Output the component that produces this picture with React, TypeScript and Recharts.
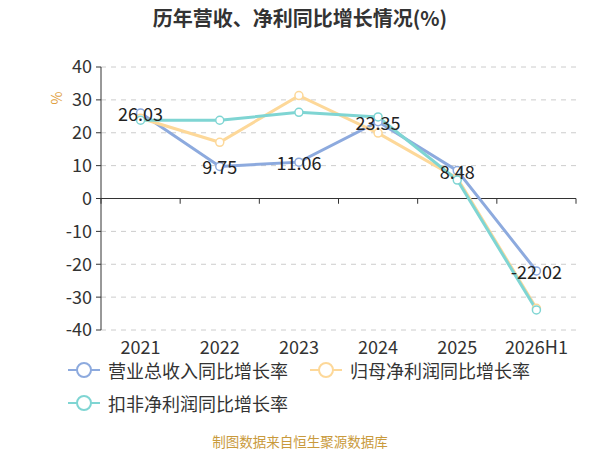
import { CartesianGrid, LabelList, Legend, Line, LineChart, ReferenceLine, XAxis, YAxis } from 'recharts'

const YEARS = ['2021', '2022', '2023', '2024', '2025', '2026H1']
const REVENUE = [26.03, 9.75, 11.06, 23.35, 8.48, -22.02]
const PARENT_PROFIT = [24.4, 17.1, 31.3, 19.9, 6.2, -33.4]
const DEDUCTED_PROFIT = [23.8, 23.8, 26.2, 24.8, 5.6, -33.9]
const Y_TICKS = [-40, -30, -20, -10, 0, 10, 20, 30, 40]
const EDGES = [0, 1, 2, 3, 4, 5, 6]

const SERIES = [
  { key: 'revenue', name: '营业总收入同比增长率', color: '#8DAADE' },
  { key: 'parent', name: '归母净利润同比增长率', color: '#FDD899' },
  { key: 'deducted', name: '扣非净利润同比增长率', color: '#7FD5D3' }
]

const FONT = '"Noto Sans CJK SC", "Noto Sans", sans-serif'
const TEXT = '#333'

const data = YEARS.map((year, i) => ({
  year,
  edge: i,
  revenue: REVENUE[i],
  parent: PARENT_PROFIT[i],
  deducted: DEDUCTED_PROFIT[i]
}))

const renderValue = (props: any) => {
  const { x, y, value } = props
  return (
    <text x={x} y={y} textAnchor='middle' dominantBaseline='central' fontSize={18} fill='#222' fontFamily={FONT}>
      {value}
    </text>
  )
}

const renderLegend = () => (
  <div style={{ display: 'flex', flexWrap: 'wrap', width: 520, fontFamily: FONT, fontSize: 18, color: TEXT }}>
    {SERIES.map(s => (
      <div key={s.key} style={{ display: 'flex', alignItems: 'center', width: 242, height: 33 }}>
        <svg width={32} height={18} style={{ marginRight: 8 }}>
          <line x1={0} y1={9} x2={32} y2={9} stroke={s.color} strokeWidth={2} />
          <circle cx={16} cy={9} r={7} fill='#fff' stroke={s.color} strokeWidth={2} />
        </svg>
        <span>{s.name}</span>
      </div>
    ))}
  </div>
)

export default function App () {
  return (
    <div style={{ position: 'absolute', left: 0, top: 0, width: 600, height: 450, background: '#fff', fontFamily: FONT }}>
      <div style={{ position: 'absolute', top: 3, width: 600, textAlign: 'center', fontSize: 20, fontWeight: 'bold', color: TEXT }}>
        历年营收、净利同比增长情况(%)
      </div>
      <div style={{ position: 'absolute', left: 50, top: 88, fontSize: 14, color: '#E0A040', transform: 'rotate(-90deg)' }}>
        %
      </div>
      <LineChart width={600} height={450} data={data} margin={{ top: 67, right: 24, left: 0, bottom: 90 }}>
        <CartesianGrid horizontal vertical={false} stroke='#ccc' strokeDasharray='5 5' />
        <XAxis
          dataKey='year'
          scale='band'
          axisLine={false}
          tickLine={false}
          height={30}
          interval={0}
          tick={{ fontSize: 18, fill: TEXT }}
          tickMargin={5}
        />
        <XAxis xAxisId='edge' dataKey='edge' type='number' domain={[0, YEARS.length]} hide />
        <YAxis
          width={101}
          domain={[-40, 40]}
          ticks={Y_TICKS}
          interval={0}
          axisLine={{ stroke: TEXT, strokeWidth: 1 }}
          tickLine={{ stroke: TEXT }}
          tickSize={5}
          tickMargin={4}
          tick={{ fontSize: 18, fill: TEXT }}
        />
        <ReferenceLine y={0} stroke={TEXT} strokeWidth={1} />
        {EDGES.map(e => (
          <ReferenceLine
            key={e}
            xAxisId='edge'
            segment={[{ x: e, y: 0 }, { x: e, y: -1.6 }]}
            stroke={TEXT}
            strokeWidth={1}
          />
        ))}
        {SERIES.map(s => (
          <Line
            key={s.key}
            dataKey={s.key}
            name={s.name}
            stroke={s.color}
            strokeWidth={3}
            dot={{ r: 4, fill: '#fff', stroke: s.color, strokeWidth: 1.5 }}
            activeDot={false}
            isAnimationActive={false}
          >
            {s.key === 'revenue' && <LabelList dataKey='revenue' content={renderValue} />}
          </Line>
        ))}
        <Legend
          layout='vertical'
          align='center'
          verticalAlign='middle'
          content={renderLegend}
          wrapperStyle={{ top: 353, left: 68, width: 520 }}
        />
      </LineChart>
      <div style={{ position: 'absolute', top: 431, width: 600, textAlign: 'center', fontSize: 13.5, color: '#C99A3C' }}>
        制图数据来自恒生聚源数据库
      </div>
    </div>
  )
}
